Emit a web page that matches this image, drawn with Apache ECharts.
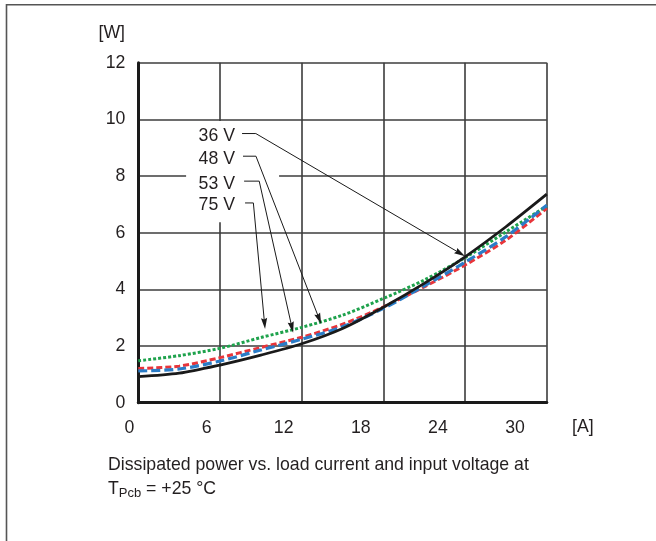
<!DOCTYPE html>
<html><head><meta charset="utf-8">
<script src="https://cdn.jsdelivr.net/npm/echarts@6/dist/echarts.min.js"></script>
<style>html,body{margin:0;padding:0;background:#fff}#c{width:656px;height:541px}</style>
</head><body><div id="c"></div>
<script>
// ---- data ----
const currentA = [0, 3, 6, 9, 12, 15, 18, 21, 24, 27, 30];
const power36V = [0.92, 1.04, 1.33, 1.68, 2.08, 2.62, 3.37, 4.21, 5.15, 6.21, 7.36];
const power48V = [1.21, 1.29, 1.59, 1.95, 2.31, 2.77, 3.38, 4.09, 4.86, 5.74, 6.86];
const power53V = [1.12, 1.19, 1.47, 1.86, 2.24, 2.68, 3.33, 4.12, 4.96, 5.86, 6.97];
const power75V = [1.48, 1.66, 1.92, 2.30, 2.66, 3.09, 3.68, 4.33, 5.12, 6.03, 6.94];
const xTickLabels = [0, 6, 12, 18, 24, 30];
const yTickLabels = [0, 2, 4, 6, 8, 10, 12];
const seriesLabels = ['36 V', '48 V', '53 V', '75 V'];

// annotation geometry, in data units (A, W)
const leaderY = [9.50, 8.70, 7.82, 7.05];
const leaderStartX = [7.62, 7.69, 7.77, 7.84];
const leaderBendX = [8.63, 8.64, 8.88, 8.45];
const arrowTips = [[24, 5.17], [13.43, 2.78], [11.37, 2.47], [9.31, 2.60]];
const labelTextX = 7.1;
const labelBox = [[3.51, 9.94], [10.34, 6.37]];

const FONT = '"Liberation Sans", Arial, Helvetica, sans-serif';
const TXT = '#231f20';
const GRIDC = '#3c3c3c';

const chart = echarts.init(document.getElementById('c'), null, {renderer: 'canvas'});

function mk(name, vals, color, width, type) {
  return {
    name, type: 'line', xAxisIndex: 0, yAxisIndex: 0,
    data: currentA.map((x, i) => [x, vals[i]]),
    smooth: 0.3, showSymbol: false, symbol: 'none', silent: true,
    lineStyle: {color, width, type, cap: 'butt'}, itemStyle: {color}, z: 3
  };
}

const option = {
  animation: false,
  backgroundColor: '#fff',
  grid: [
    {left: 138.3, right: 109.2, top: 62.7, bottom: 138.3, outerBoundsMode: 'none', containLabel: false},
    {left: 129.5, right: 141, top: 62.7, bottom: 138.3, outerBoundsMode: 'none', containLabel: false}
  ],
  xAxis: [
    {type: 'value', gridIndex: 0, min: 0, max: 30, interval: 6,
     axisLine: {show: true, onZero: false, lineStyle: {color: '#1a1a1a', width: 3}},
     axisTick: {show: false}, axisLabel: {show: false},
     splitLine: {show: true, lineStyle: {color: GRIDC, width: 1.6}}},
    {type: 'value', gridIndex: 1, min: xTickLabels[0], max: xTickLabels[xTickLabels.length - 1], interval: 6,
     axisLine: {show: false}, axisTick: {show: false}, splitLine: {show: false},
     axisLabel: {show: true, margin: 16, color: TXT, fontSize: 17.7, fontFamily: FONT,
                 showMinLabel: true, showMaxLabel: true}}
  ],
  yAxis: [
    {type: 'value', gridIndex: 0, min: yTickLabels[0], max: yTickLabels[yTickLabels.length - 1], interval: 2,
     axisLine: {show: true, onZero: false, lineStyle: {color: '#1a1a1a', width: 3}},
     axisTick: {show: false},
     axisLabel: {margin: 13, color: TXT, fontSize: 17.7, fontFamily: FONT, showMinLabel: true, showMaxLabel: true},
     splitLine: {show: true, lineStyle: {color: GRIDC, width: 1.6}}},
    {type: 'value', gridIndex: 1, min: 0, max: 12, show: false}
  ],
  series: [
    mk('75 V', power75V, '#1ea24c', 3, [3, 2]),
    mk('48 V', power48V, '#e8353a', 3, [6, 3]),
    mk('53 V', power53V, '#2a7cc7', 3.2, [9, 4]),
    mk('36 V', power36V, '#1a1a1a', 2.8, 'solid')
  ]
};
chart.setOption(option);

function px(p) { return chart.convertToPixel({gridIndex: 0}, p); }
const g = [];
// outer frame (top and left edges)
g.push({type: 'polyline', z: 1, silent: true, shape: {points: [[6.5, 541], [6.5, 4.8], [656, 4.8]]},
        style: {stroke: '#555', lineWidth: 1.6, fill: null}});
// white label box
const b0 = px(labelBox[0]), b1 = px(labelBox[1]);
g.push({type: 'rect', z: 1, silent: true, shape: {x: b0[0], y: b0[1], width: b1[0] - b0[0], height: b1[1] - b0[1]},
        style: {fill: '#fff', stroke: null}});
// labels and leader lines with arrows
seriesLabels.forEach((lab, i) => {
  const s = px([leaderStartX[i], leaderY[i]]);
  const m = px([leaderBendX[i], leaderY[i]]);
  const t = px(arrowTips[i]);
  const tx = px([labelTextX, leaderY[i]]);
  g.push({type: 'text', z: 10, silent: true, x: tx[0], y: tx[1] + 2.5,
          style: {text: lab, fill: TXT, font: '17.7px ' + FONT, align: 'right', verticalAlign: 'middle'}});
  const dx = t[0] - m[0], dy = t[1] - m[1], L = Math.hypot(dx, dy);
  const ux = dx / L, uy = dy / L, nx = -uy, ny = ux;
  const AL = 11, AW = 3.1;
  const base = [t[0] - ux * AL, t[1] - uy * AL];
  g.push({type: 'polyline', z: 10, silent: true, shape: {points: [s, m, [t[0] - ux * AL * 0.7, t[1] - uy * AL * 0.7]]},
          style: {stroke: '#1a1a1a', lineWidth: 1, fill: null}});
  g.push({type: 'polygon', z: 10, silent: true,
          shape: {points: [t, [base[0] + nx * AW, base[1] + ny * AW], [t[0] - ux * AL * 0.88, t[1] - uy * AL * 0.88], [base[0] - nx * AW, base[1] - ny * AW]]},
          style: {fill: '#1a1a1a', stroke: null}});
});
// axis units
g.push({type: 'text', z: 10, silent: true, x: 125, y: 33,
        style: {text: '[W]', fill: TXT, font: '17.7px ' + FONT, align: 'right', verticalAlign: 'middle'}});
g.push({type: 'text', z: 10, silent: true, x: 572, y: 427,
        style: {text: '[A]', fill: TXT, font: '17.7px ' + FONT, align: 'left', verticalAlign: 'middle'}});
// caption
g.push({type: 'text', z: 10, silent: true, x: 108, y: 465,
        style: {text: 'Dissipated power vs. load current and input voltage at', fill: TXT,
                font: '17.7px ' + FONT, align: 'left', verticalAlign: 'middle'}});
g.push({type: 'text', z: 10, silent: true, x: 108, y: 489,
        style: {text: '{n|T}{s|Pcb}{n| = +25 °C}', fill: TXT, align: 'left', verticalAlign: 'middle',
                rich: {n: {fontSize: 17.7, fontFamily: FONT, fill: TXT, verticalAlign: 'middle'},
                       s: {fontSize: 13, fontFamily: FONT, fill: TXT, padding: [8, 0, 0, 0], verticalAlign: 'middle'}}}});
chart.setOption({graphic: {elements: g}});
</script>
</body></html>
